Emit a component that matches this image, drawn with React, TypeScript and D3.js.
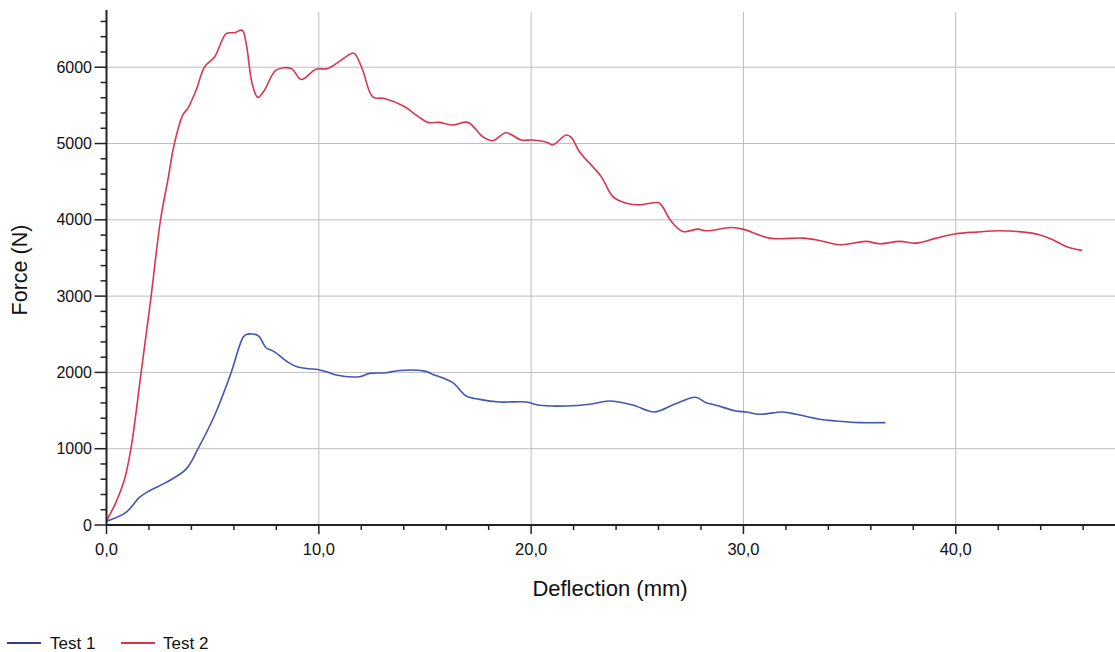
import React from "react";
import * as d3 from "d3";

const test1X = [0, 0.92, 1.55, 2.03, 2.81, 3.75, 4.3, 5.01, 5.4, 5.87, 6.42, 6.58, 7.13, 7.52, 7.91, 8.54, 9.01, 9.56, 9.95, 10.5, 10.82, 11.92, 12.39, 13.17, 13.8, 14.98, 15.37, 16.31, 16.94, 17.57, 18.51, 19.77, 20.4, 21.65, 22.75, 23.69, 24.79, 25.8, 26.75, 27.75, 28.24, 28.71, 29.66, 30.13, 30.76, 31.86, 32.48, 33.58, 34.37, 35.47, 36.69];
const test1Y = [50, 166, 362, 449, 558, 732, 993, 1386, 1647, 1996, 2454, 2497, 2484, 2323, 2270, 2135, 2070, 2048, 2039, 1996, 1965, 1944, 1987, 1996, 2026, 2017, 1974, 1865, 1690, 1647, 1612, 1612, 1569, 1560, 1582, 1625, 1573, 1481, 1582, 1675, 1603, 1569, 1494, 1481, 1451, 1481, 1451, 1386, 1364, 1342, 1342];

const test2X = [0, 0.45, 0.85, 1.16, 1.63, 2.1, 2.54, 2.89, 3.2, 3.59, 3.83, 4.22, 4.62, 5.09, 5.64, 6.03, 6.39, 6.58, 6.86, 7.13, 7.44, 7.99, 8.7, 9.17, 9.87, 10.42, 11.6, 11.72, 12.07, 12.54, 13.1, 14.05, 14.59, 15.14, 15.69, 16.31, 17.02, 17.72, 18.19, 18.82, 19.53, 20.08, 20.79, 21.02, 21.65, 21.89, 22.28, 23.3, 23.85, 24.48, 25.11, 25.97, 26.13, 26.6, 27.15, 27.85, 28.24, 29.42, 29.97, 31.23, 32.8, 33.58, 34.53, 35.78, 36.41, 37.35, 38.14, 39.08, 40.02, 40.96, 42.06, 43.32, 43.93, 44.57, 45.2, 45.95];
const test2Y = [55, 300, 600, 1016, 1996, 2997, 3991, 4523, 5003, 5373, 5460, 5699, 6004, 6135, 6440, 6453, 6484, 6310, 5787, 5604, 5699, 5961, 5983, 5839, 5974, 5983, 6187, 6170, 5961, 5612, 5590, 5481, 5373, 5277, 5277, 5242, 5277, 5089, 5037, 5141, 5046, 5046, 5011, 4981, 5111, 5081, 4893, 4566, 4305, 4218, 4196, 4226, 4196, 3980, 3847, 3878, 3856, 3899, 3878, 3760, 3760, 3730, 3673, 3717, 3686, 3717, 3695, 3760, 3817, 3839, 3856, 3835, 3804, 3739, 3651, 3599];

const xMajorTicks = [0, 10, 20, 30, 40];
const xTickLabels = ["0,0", "10,0", "20,0", "30,0", "40,0"];
const yMajorTicks = [0, 1000, 2000, 3000, 4000, 5000, 6000];
const seriesNames = ["Test 1", "Test 2"];

const W = 1115;
const H = 652;
const FONT = "Liberation Sans, Arial, Helvetica, sans-serif";

export default function App() {
  const x = d3.scaleLinear().domain([0, 47.5]).range([106.5, 1115]);
  const y = d3.scaleLinear().domain([0, 6750]).range([525, 10]);

  const xMinor = d3.range(0, 47.1, 2);
  const yMinor = d3.range(0, 6601, 200);

  const line = d3
    .line<[number, number]>()
    .x((d) => x(d[0]))
    .y((d) => y(d[1]))
    .curve(d3.curveCatmullRom.alpha(0.5));

  const d1 = line(test1X.map((v, i) => [v, test1Y[i]] as [number, number])) || "";
  const d2 = line(test2X.map((v, i) => [v, test2Y[i]] as [number, number])) || "";

  const blue = "#4257b3";
  const red = "#d8354f";

  return (
    <svg
      width={W}
      height={H}
      style={{ position: "absolute", left: 0, top: 0, background: "#fff" }}
      fontFamily={FONT}
    >
      <rect width={W} height={H} fill="#fff" />
      {yMajorTicks.slice(1).map((t) => (
        <line key={"gy" + t} x1={x(0)} x2={W} y1={y(t)} y2={y(t)} stroke="#bdbdbd" strokeWidth={1} />
      ))}
      {xMajorTicks.slice(1).map((t) => (
        <line key={"gx" + t} x1={x(t)} x2={x(t)} y1={y(0)} y2={12} stroke="#bdbdbd" strokeWidth={1} />
      ))}
      <path d={d1} fill="none" stroke={blue} strokeWidth={1.6} />
      <path d={d2} fill="none" stroke={red} strokeWidth={1.6} />
      <line x1={x(0)} x2={x(0)} y1={y(0)} y2={10} stroke="#222" strokeWidth={2} />
      <line x1={x(0)} x2={W} y1={y(0)} y2={y(0)} stroke="#222" strokeWidth={2} />
      {yMinor.map((t) => {
        const major = t % 1000 === 0;
        return (
          <line key={"ty" + t} x1={x(0) - (major ? 12 : 6)} x2={x(0)} y1={y(t)} y2={y(t)} stroke="#222" strokeWidth={1.5} />
        );
      })}
      {xMinor.map((t) => {
        const major = t % 10 === 0;
        return (
          <line key={"tx" + t} x1={x(t)} x2={x(t)} y1={y(0)} y2={y(0) + (major ? 9 : 5)} stroke="#222" strokeWidth={1.5} />
        );
      })}
      {yMajorTicks.map((t) => (
        <text key={"ly" + t} x={92} y={y(t)} dy="0.35em" textAnchor="end" fontSize={16} fill="#111">
          {t}
        </text>
      ))}
      {xMajorTicks.map((t, i) => (
        <text key={"lx" + t} x={x(t)} y={555} textAnchor="middle" fontSize={16.5} fill="#111">
          {xTickLabels[i]}
        </text>
      ))}
      <text x={610} y={596} textAnchor="middle" fontSize={22} fill="#111">
        Deflection (mm)
      </text>
      <text transform="translate(27,270) rotate(-90)" textAnchor="middle" fontSize={21.5} fill="#111">
        Force (N)
      </text>
      <line x1={7} x2={41} y1={643} y2={643} stroke="#2f3f8c" strokeWidth={2} />
      <text x={50} y={649} fontSize={17} fill="#111">{seriesNames[0]}</text>
      <line x1={121} x2={155} y1={643} y2={643} stroke="#e0304b" strokeWidth={2} />
      <text x={163} y={649} fontSize={17} fill="#111">{seriesNames[1]}</text>
    </svg>
  );
}
